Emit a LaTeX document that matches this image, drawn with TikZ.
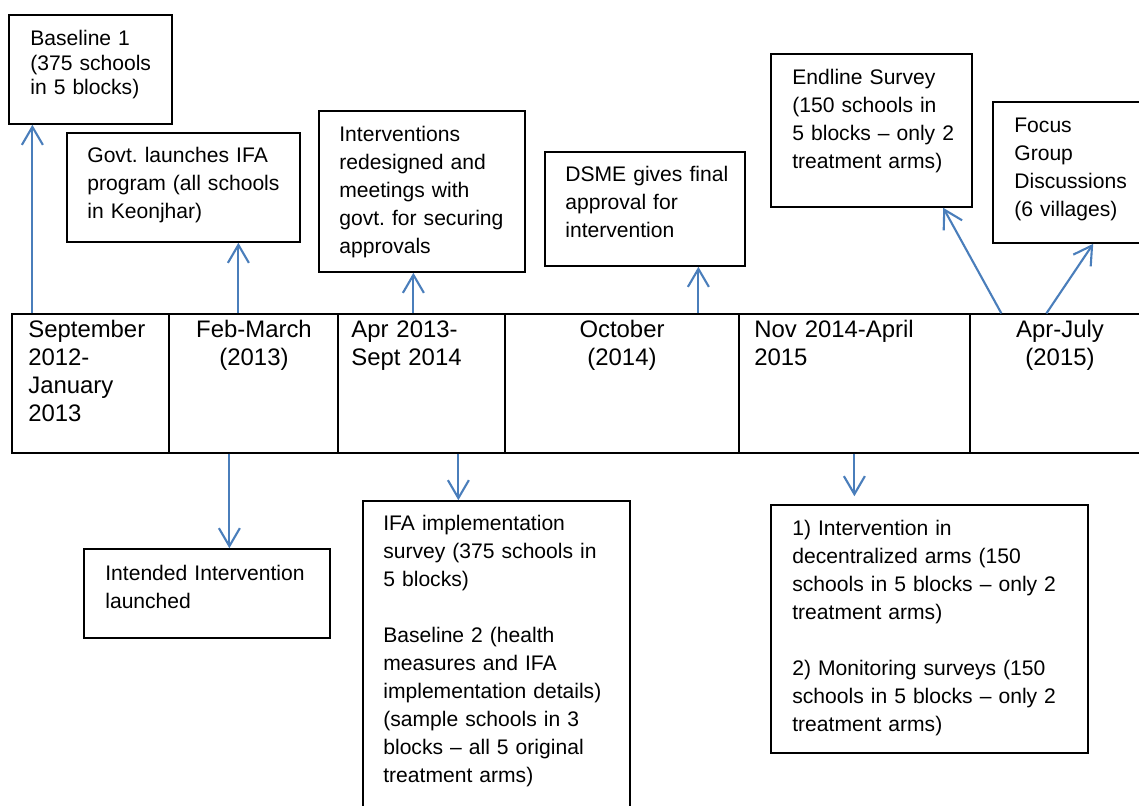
\documentclass[tikz,border=0pt]{standalone}
\usepackage{fontspec}
\setmainfont{Liberation Sans}
\usetikzlibrary{arrows.meta,calc,fit}
\definecolor{arrowblue}{HTML}{4A7EBB}
\frenchspacing
\begin{document}
\begin{tikzpicture}[x=0.02cm,y=-0.02cm,
  box/.style={draw=black, line width=0.9pt, inner sep=0pt},
  cell/.style={draw=black, line width=0.7pt, inner sep=0pt},
  txt/.style={anchor=north west, inner sep=0pt, text width=7cm, align=left, font=\fontsize{12}{15.9}\selectfont},
  tighttxt/.style={txt, font=\fontsize{12}{13.9}\selectfont},
  lbl/.style={anchor=north west, inner sep=0pt, text width=5cm, align=left, font=\fontsize{13.6}{15.9}\selectfont},
  clbl/.style={anchor=north, inner sep=0pt, text width=5cm, align=center, font=\fontsize{13.6}{15.9}\selectfont},
  arr/.style={draw=arrowblue, line width=1.2pt, -{Straight Barb[length=0.36cm,width=0.42cm]}}
]
\useasboundingbox (0,0) rectangle (1139,805);
\clip (0,0) rectangle (1139,805);

% timeline cells
\node[cell, fit={(12,314) (169,453)}] (c1) {};
\node[cell, fit={(169,314) (338,453)}] (c2) {};
\node[cell, fit={(338,314) (505,453)}] (c3) {};
\node[cell, fit={(505,314) (739,453)}] (c4) {};
\node[cell, fit={(739,314) (970,453)}] (c5) {};
\node[cell, fit={(970,314) (1165,453)}] (c6) {};

\node[lbl] (l1) at (28,318) {\strut September\\2012-\\January\\2013};
\node[clbl] (l2) at (254,318) {\strut Feb-March\\(2013)};
\node[lbl] (l3) at (351,318) {\strut Apr 2013-\\Sept 2014};
\node[clbl] (l4) at (622,318) {\strut October\\(2014)};
\node[lbl] (l5) at (754,318) {\strut Nov 2014-April\\2015};
\node[clbl] (l6) at (1060,318) {\strut Apr-July\\(2015)};

% boxes above
\node[box, fit={(9,15) (172,124)}] (b1) {};
\node[tighttxt] (t1) at (30,28.4) {\strut Baseline 1\\(375 schools\\in 5 blocks)};
\node[box, fit={(67,133) (300,242)}] (b2) {};
\node[txt] (t2) at (87,143) {\strut Govt. launches IFA\\program (all schools\\in Keonjhar)};
\node[box, fit={(319,111) (525,272)}] (b3) {};
\node[txt] (t3) at (339,122) {\strut Interventions\\redesigned and\\meetings with\\govt. for securing\\approvals};
\node[box, fit={(545,152) (745,266)}] (b4) {};
\node[txt] (t4) at (565,162) {\strut DSME gives final\\approval for\\intervention};
\node[box, fit={(771,54) (972,207)}] (b5) {};
\node[txt] (t5) at (792,65) {\strut Endline Survey\\(150 schools in\\5 blocks – only 2\\treatment arms)};
\node[box, fit={(993,102) (1165,243)}] (b6) {};
\node[txt] (t6) at (1014,113) {\strut Focus\\Group\\Discussions\\(6 villages)};

% boxes below
\node[box, fit={(84,549) (330,638)}] (b7) {};
\node[txt] (t7) at (105,561) {\strut Intended Intervention\\launched};
\node[box, fit={(363,501) (630,830)}] (b8) {};
\node[txt] (t8) at (383,511) {\strut IFA implementation\\survey (375 schools in\\5 blocks)\\[15.9pt]Baseline 2 (health\\measures and IFA\\implementation details)\\(sample schools in 3\\blocks – all 5 original\\treatment arms)};
\node[box, fit={(771,505) (1088,753)}] (b9) {};
\node[txt] (t9) at (792,516) {\strut 1) Intervention in\\decentralized arms (150\\schools in 5 blocks – only 2\\treatment arms)\\[15.9pt]2) Monitoring surveys (150\\schools in 5 blocks – only 2\\treatment arms)};

% connectors up
\path ($(c1.north west)+(21,0)$) coordinate (s1);
\draw[arr] (s1) -- (s1 |- b1.south);
\path ($(c2.north west)+(70,0)$) coordinate (s2);
\draw[arr] (s2) -- (s2 |- b2.south);
\path ($(c3.north west)+(76,0)$) coordinate (s3);
\draw[arr] (s3) -- (s3 |- b3.south);
\path ($(c4.north west)+(194,0)$) coordinate (s4);
\draw[arr] (s4) -- (s4 |- b4.south);
\path ($(c6.north west)+(32,0)$) coordinate (s5);
\draw[arr] (s5) -- ($(b5.south west)+(173,0)$);
\path ($(c6.north west)+(77,0)$) coordinate (s6);
\draw[arr] (s6) -- ($(b6.south west)+(101,0)$);

% connectors down
\path ($(c2.south west)+(61,0)$) coordinate (d1);
\draw[arr] (d1) -- (d1 |- b7.north);
\path ($(c3.south west)+(121,0)$) coordinate (d2);
\draw[arr] (d2) -- (d2 |- b8.north);
\path ($(c5.south west)+(116,0)$) coordinate (d3);
\draw[arr] (d3) -- ($(d3 |- b9.north)+(0,-8)$);
\end{tikzpicture}
\end{document}
